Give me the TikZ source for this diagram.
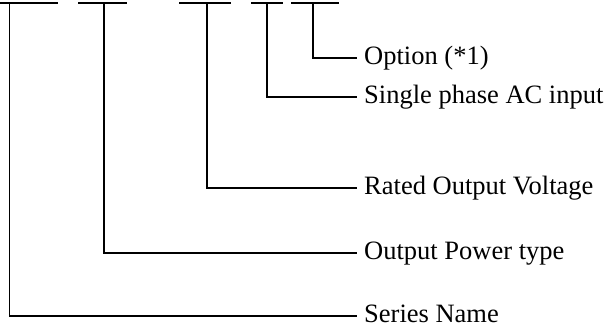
\documentclass[tikz,border=0pt]{standalone}
\usepackage{fontspec}
\setmainfont{Liberation Serif}
\begin{document}
\begin{tikzpicture}[x=1pt,y=-1pt,
  wire/.style={line width=1.4pt,black},
  lab/.style={anchor=west,inner sep=0pt,text height=17pt,text depth=5pt,font=\fontsize{26.5}{30}\selectfont},
]
\useasboundingbox (0,0) rectangle (610,327);
% top bars
\coordinate (b1l) at (0,3);   \coordinate (b1r) at (58,3);   \coordinate (v1) at (9.5,3);
\coordinate (b2l) at (78,3);  \coordinate (b2r) at (127,3);  \coordinate (v2) at (104,3);
\coordinate (b3l) at (179,3); \coordinate (b3r) at (231,3);  \coordinate (v3) at (207,3);
\coordinate (b4l) at (251,3); \coordinate (b4r) at (283,3);  \coordinate (v4) at (267,3);
\coordinate (b5l) at (291,3); \coordinate (b5r) at (339,3);  \coordinate (v5) at (313,3);
% labels
\node[lab] (l5) at (364,58)  {Option (*1)};
\node[lab] (l4) at (364,97)  {Single phase AC input};
\node[lab] (l3) at (364,188) {Rated Output Voltage};
\node[lab] (l2) at (364,253) {Output Power type};
\node[lab] (l1) at (364,316) {Series Name};
% end points of connectors
\coordinate (e5) at ([xshift=-7pt]l5.west);
\coordinate (e4) at ([xshift=-7pt]l4.west);
\coordinate (e3) at ([xshift=-7pt]l3.west);
\coordinate (e2) at ([xshift=-7pt]l2.west);
\coordinate (e1) at ([xshift=-7pt]l1.west);
\foreach \i in {1,...,5}{
  \draw[wire] (b\i l) -- (b\i r);
  \draw[wire] (v\i) |- (e\i);
}
\end{tikzpicture}
\end{document}
